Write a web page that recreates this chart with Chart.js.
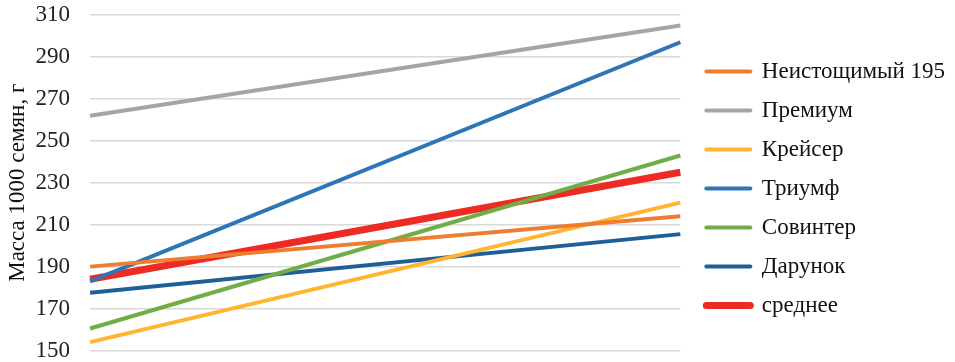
<!DOCTYPE html>
<html>
<head>
<meta charset="utf-8">
<script src="https://cdn.jsdelivr.net/npm/chart.js@4"></script>
<style>
  html, body { margin: 0; padding: 0; background: #fff; }
  #wrap { width: 955px; height: 362px; }
</style>
</head>
<body>
<div id="wrap"><canvas id="chart"></canvas></div>
<script>
// две точки по оси X (подписей нет)
const categories = ['1', '2'];
const seriesNames = ['Неистощимый 195', 'Премиум', 'Крейсер', 'Триумф', 'Совинтер', 'Дарунок', 'среднее'];
const neistoshchimy = [190, 214];
const premium = [262, 305];
const kreiser = [154, 220.5];
const triumf = [183, 297];
const sovinter = [160.5, 243];
const darunok = [177.5, 205.5];
const srednee = [184, 235];
const yTicks = [150, 170, 190, 210, 230, 250, 270, 290, 310];

const colors = ['#ED7D31', '#A5A5A5', '#FFB52E', '#2E75B6', '#70AD47', '#1F5F99', '#EE2A24'];
const widths = [4, 4, 4, 4, 4, 4, 7];
const values = [neistoshchimy, premium, kreiser, triumf, sovinter, darunok, srednee];

const serif = '"Liberation Serif", "Times New Roman", serif';

new Chart(document.getElementById('chart'), {
  type: 'line',
  data: {
    labels: categories,
    datasets: seriesNames.map((name, i) => ({
      label: name,
      data: values[i],
      borderColor: colors[i],
      backgroundColor: colors[i],
      borderWidth: widths[i],
      borderCapStyle: 'butt',
      pointRadius: 0,
      pointStyle: 'line',
      tension: 0,
    })),
  },
  options: {
    responsive: true,
    maintainAspectRatio: false,
    animation: false,
    layout: { padding: { top: 15, right: 0, left: 4, bottom: 0 } },
    plugins: {
      tooltip: { enabled: false },
      legend: {
        position: 'right',
        maxWidth: 400,
        labels: {
          usePointStyle: true,
          pointStyleWidth: 44,
          padding: 16,
          color: '#111',
          font: { family: serif, size: 23 },
          generateLabels: chart => {
            const items = Chart.defaults.plugins.legend.labels.generateLabels(chart);
            items.forEach(it => { it.lineCap = 'round'; });
            return items;
          },
        },
      },
    },
    scales: {
      x: {
        display: false,
        offset: false,
      },
      y: {
        min: 150,
        max: 310,
        afterBuildTicks: axis => { axis.ticks = yTicks.map(v => ({ value: v })); },
        // отступ подписей делаем через длину (невидимых) засечек
        grid: { color: '#D9D9D9', lineWidth: 1.5, drawTicks: true, tickLength: 20, tickColor: 'rgba(0,0,0,0)' },
        border: { display: false },
        ticks: { color: '#222', padding: 0, font: { family: serif, size: 23, lineHeight: 1.0 } },
        title: {
          display: true,
          text: 'Масса 1000 семян, г',
          color: '#111',
          font: { family: serif, size: 23 },
          padding: { top: 0, bottom: 4 },
        },
      },
      // пустая ось справа — зазор между графиком и легендой
      gap: {
        position: 'right',
        display: true,
        grid: { display: false },
        border: { display: false },
        ticks: { display: false },
        afterFit: s => { s.width = 10; },
      },
    },
  },
});
</script>
</body>
</html>
